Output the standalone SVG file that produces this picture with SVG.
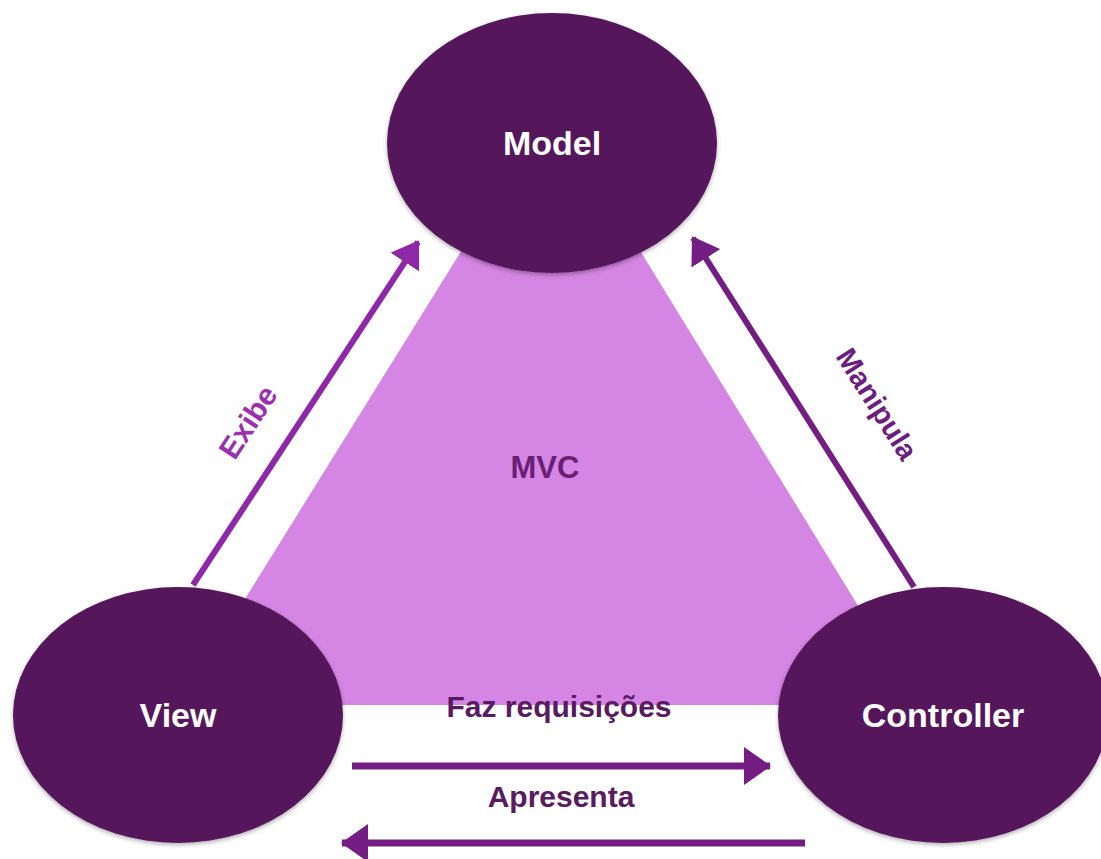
<svg xmlns="http://www.w3.org/2000/svg" width="1101" height="859" viewBox="0 0 1101 859">
<style>
.node{fill:#55155C}
.nl{font-family:"Liberation Sans",Arial,sans-serif;font-weight:bold;font-size:34px;fill:#FFFFFF;text-anchor:middle;dominant-baseline:central}
.lbl{font-family:"Liberation Sans",Arial,sans-serif;font-weight:bold;text-anchor:middle;dominant-baseline:central}
</style>
<defs>
<filter id="sh" x="-10%" y="-10%" width="120%" height="125%">
<feDropShadow dx="0" dy="2" stdDeviation="2" flood-color="#000" flood-opacity="0.3"/>
</filter>
<marker id="ahA" viewBox="0 0 26 34" refX="24" refY="17" markerWidth="26" markerHeight="34" orient="auto" markerUnits="userSpaceOnUse">
<path d="M0,0 L26,17 L0,34 z" fill="#8E27A8"/>
</marker>
<marker id="ahB" viewBox="0 0 26 34" refX="24" refY="17" markerWidth="26" markerHeight="34" orient="auto" markerUnits="userSpaceOnUse">
<path d="M0,0 L26,17 L0,34 z" fill="#741E84"/>
</marker>
<marker id="ahH" viewBox="0 0 27 38" refX="26" refY="19" markerWidth="27" markerHeight="38" orient="auto" markerUnits="userSpaceOnUse">
<path d="M0,0 L27,19 L0,38 z" fill="#741E84"/>
</marker>
</defs>
<rect width="1101" height="859" fill="#FFFFFF"/>
<g id="mvc-area">
<polygon points="493,200 609,200 919,705 179,705" fill="#D585E3"/>
<text class="lbl" x="545" y="467" font-size="31" fill="#6A1F74">MVC</text>
</g>
<g id="connectors">
<line x1="193" y1="585" x2="418" y2="242" stroke="#8E27A8" stroke-width="6" marker-end="url(#ahA)"/>
<line x1="914" y1="587" x2="693" y2="238" stroke="#741E84" stroke-width="6" marker-end="url(#ahB)"/>
<line x1="352" y1="766" x2="770" y2="766" stroke="#741E84" stroke-width="7" marker-end="url(#ahH)"/>
<line x1="805" y1="843" x2="342" y2="843" stroke="#741E84" stroke-width="7" marker-end="url(#ahH)"/>
<text class="lbl" transform="translate(248,422) rotate(-56.7)" font-size="30" fill="#9B30B0">Exibe</text>
<text class="lbl" transform="translate(877,404) rotate(57.6)" font-size="29" fill="#6D1C80">Manipula</text>
<text class="lbl" x="559" y="706" font-size="30" fill="#5A1A60">Faz requisições</text>
<text class="lbl" x="561" y="796" font-size="30" fill="#5A1A60">Apresenta</text>
</g>
<g id="model">
<ellipse class="node" cx="552" cy="143" rx="165" ry="130" filter="url(#sh)"/>
<text class="nl" x="552" y="143">Model</text>
</g>
<g id="view">
<ellipse class="node" cx="178" cy="715" rx="165" ry="128" filter="url(#sh)"/>
<text class="nl" x="178" y="715">View</text>
</g>
<g id="controller">
<ellipse class="node" cx="943" cy="715" rx="165" ry="128" filter="url(#sh)"/>
<text class="nl" x="943" y="715">Controller</text>
</g>
</svg>
